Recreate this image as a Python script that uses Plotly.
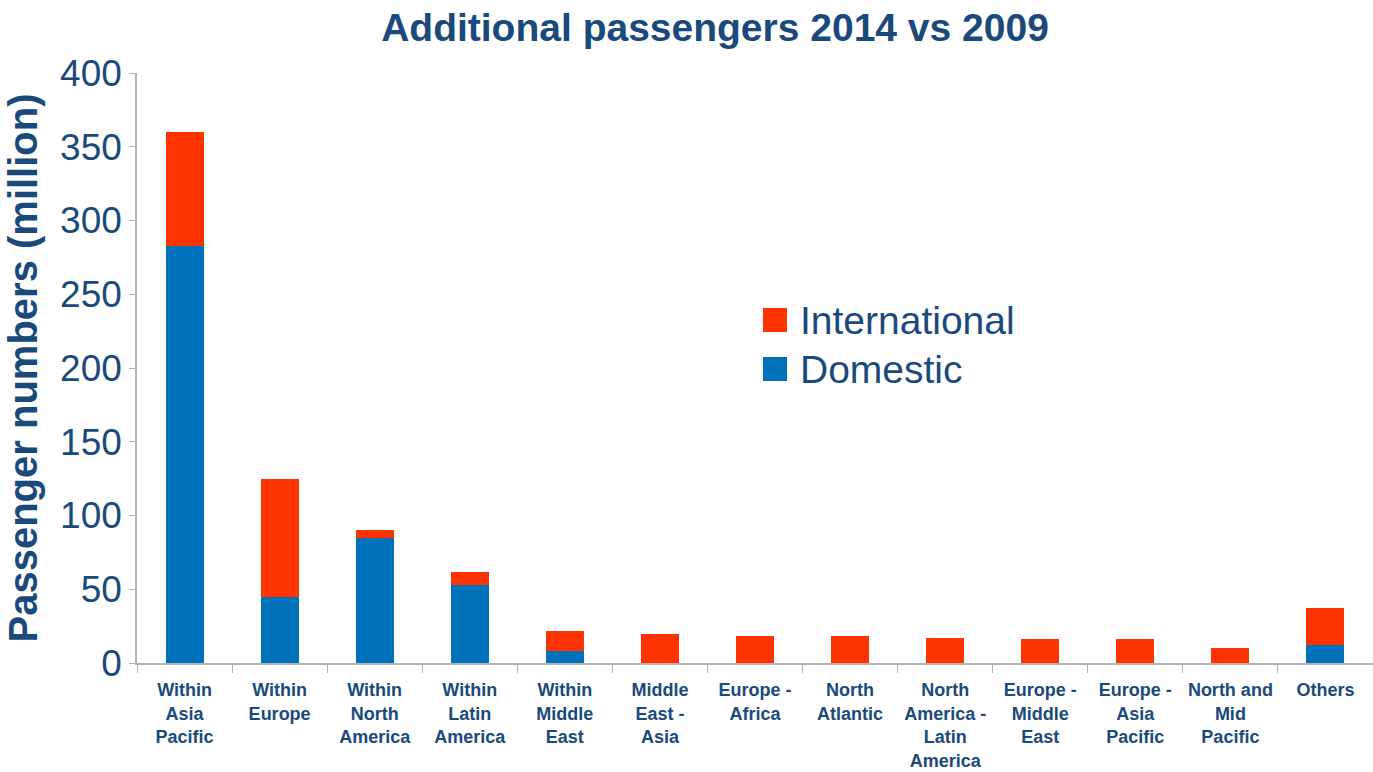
import plotly.graph_objects as go

categories = ["Within<br>Asia<br>Pacific", "Within<br>Europe", "Within<br>North<br>America",
              "Within<br>Latin<br>America", "Within<br>Middle<br>East", "Middle<br>East -<br>Asia",
              "Europe -<br>Africa", "North<br>Atlantic", "North<br>America -<br>Latin<br>America",
              "Europe -<br>Middle<br>East", "Europe -<br>Asia<br>Pacific", "North and<br>Mid<br>Pacific",
              "Others"]
domestic = [283, 45, 85, 53, 8, 0, 0, 0, 0, 0, 0, 0, 12]
international = [77, 80, 5, 9, 14, 20, 18, 18, 17, 16, 16, 10, 25]
y_ticks = [0, 50, 100, 150, 200, 250, 300, 350, 400]

BLUE = "#0072bc"
RED = "#ff3300"
TXT = "#1a4a7c"
FONT = "Liberation Sans"

fig = go.Figure()
fig.add_trace(go.Bar(x=categories, y=domestic, name="Domestic", marker_color=BLUE,
                     marker_line_width=0))
fig.add_trace(go.Bar(x=categories, y=international, name="International", marker_color=RED,
                     marker_line_width=0))

fig.update_layout(
    barmode="stack",
    bargap=0.6,
    width=1373, height=772,
    margin=dict(l=137, r=0, t=73, b=109),
    paper_bgcolor="white", plot_bgcolor="white",
    showlegend=False,
    title=dict(text="<b>Additional passengers 2014 vs 2009</b>", x=715 / 1373, xanchor="center",
               y=1 - 27 / 772, yanchor="middle",
               font=dict(family=FONT, size=39, color=TXT)),
    font=dict(family=FONT, color=TXT),
)
fig.update_yaxes(range=[0, 400], tickvals=y_ticks, showgrid=False, zeroline=False,
                 showline=True, linecolor="#b4b4b4", linewidth=1.5,
                 ticks="outside", ticklen=6, tickcolor="#b4b4b4",
                 tickfont=dict(family=FONT, size=37, color=TXT),
                 title=dict(text="<b>Passenger numbers (million)</b>",
                            font=dict(family=FONT, size=40, color=TXT), standoff=10))
fig.update_xaxes(range=[-0.5, 12.5], showgrid=False, showline=True, linecolor="#b4b4b4",
                 linewidth=1.5, ticks="outside", tickson="boundaries", ticklen=8,
                 tickcolor="#b4b4b4", tickangle=0, ticklabelstandoff=10,
                 tickfont=dict(family=FONT, size=18, color=TXT, weight="bold"))

# custom legend (large swatches)
legend_items = [("International", RED, 320), ("Domestic", BLUE, 369)]
for name, col, yc in legend_items:
    fig.add_shape(type="rect", xref="paper", yref="paper",
                  x0=(763 - 137) / 1236, x1=(787 - 137) / 1236,
                  y0=(663 - yc - 12) / 590, y1=(663 - yc + 12) / 590,
                  fillcolor=col, line_width=0)
    fig.add_annotation(xref="paper", yref="paper", x=(798 - 137) / 1236, y=(663 - yc) / 590,
                       text=name, showarrow=False, xanchor="left", yanchor="middle",
                       font=dict(family=FONT, size=39, color=TXT))

fig.write_html("out.html")
